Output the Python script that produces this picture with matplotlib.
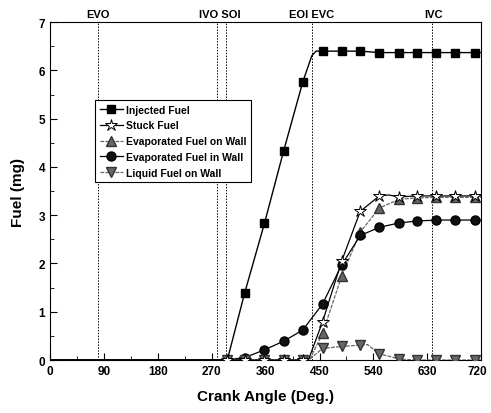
import matplotlib.pyplot as plt
import matplotlib.transforms as mtransforms
import numpy as np

plt.rcParams['font.family'] = ['Liberation Sans', 'DejaVu Sans']
plt.rcParams['font.weight'] = 'bold'

# crank angle positions of the markers
ca_marks = [295, 325, 358, 390, 422, 455, 487, 518, 550, 583, 613, 645, 677, 710]

# injected fuel
inj_x = [0, 296, 325, 358, 390, 422, 437, 444, 455, 487, 518, 550, 583, 613, 645, 677, 710, 720]
inj_y = [0, 0, 1.39, 2.83, 4.33, 5.76, 6.30, 6.40, 6.40, 6.40, 6.40, 6.37, 6.37, 6.37, 6.37, 6.37, 6.37, 6.37]
inj_mk = [2, 3, 4, 5, 8, 9, 10, 11, 12, 13, 14, 15, 16]

# stuck fuel
stk_x = [0, 295, 325, 358, 390, 422, 432, 455, 487, 518, 550, 565, 583, 613, 645, 677, 710, 720]
stk_y = [0, 0, 0, 0, 0, 0, 0.02, 0.79, 2.05, 3.08, 3.40, 3.42, 3.38, 3.40, 3.40, 3.40, 3.40, 3.40]
stk_mk = [1, 2, 3, 4, 5, 7, 8, 9, 10, 12, 13, 14, 15, 16]

# evaporated fuel on wall
evw_x = [0, 295, 325, 358, 390, 422, 434, 455, 487, 518, 550, 583, 613, 645, 677, 710, 720]
evw_y = [0, 0, 0, 0, 0, 0, 0.02, 0.55, 1.74, 2.65, 3.15, 3.33, 3.36, 3.37, 3.37, 3.37, 3.37]
evw_mk = [1, 2, 3, 4, 5, 7, 8, 9, 10, 11, 12, 13, 14, 15]

# evaporated fuel in wall
evi_x = [0, 295, 325, 358, 390, 422, 455, 487, 518, 550, 583, 613, 645, 677, 710, 720]
evi_y = [0, 0, 0.05, 0.21, 0.39, 0.62, 1.16, 1.97, 2.58, 2.75, 2.84, 2.88, 2.90, 2.90, 2.90, 2.90]
evi_mk = [1, 2, 3, 4, 5, 6, 7, 8, 9, 10, 11, 12, 13, 14]

# liquid fuel on wall
liq_x = [0, 295, 325, 358, 390, 422, 434, 455, 487, 518, 530, 550, 583, 613, 645, 677, 710, 720]
liq_y = [0, 0, 0, 0, 0, 0, 0.02, 0.24, 0.28, 0.31, 0.32, 0.13, 0.02, 0.0, 0.0, 0.0, 0.0, 0.0]
liq_mk = [1, 2, 3, 4, 5, 7, 8, 9, 11, 12, 13, 14, 15, 16]

events = ['EVO', 'IVO', 'SOI', 'EOI', 'IVC']
event_ca = [80, 278, 293, 438, 638]
label_txt = ['EVO', 'IVO SOI', 'EOI EVC', 'IVC']
label_ca = [80, 283, 437, 640]

fig = plt.figure(figsize=(4.91, 4.14), dpi=100)
ax = fig.add_axes([0.102, 0.128, 0.878, 0.816])

for ca in event_ca:
    ax.axvline(ca, color='black', lw=0.7, ls=(0, (1.5, 1.5)), zorder=1)

gray = '#666666'
ax.plot(inj_x, inj_y, color='black', lw=1.0, marker='s', ms=5.5, mfc='black', mec='black',
        markevery=inj_mk, label='Injected Fuel', zorder=4)
ax.plot(stk_x, stk_y, color='black', lw=0.9, marker='*', ms=9, mfc='white', mec='black', mew=0.7,
        markevery=stk_mk, label='Stuck Fuel', zorder=5)
ax.plot(evw_x, evw_y, color=gray, lw=0.9, ls=(0, (3, 1)), marker='^', ms=6.5, mfc=gray, mec='#333333',
        markevery=evw_mk, label='Evaporated Fuel on Wall', zorder=3)
ax.plot(evi_x, evi_y, color='black', lw=0.9, marker='o', ms=6.5, mfc='#111111', mec='black',
        markevery=evi_mk, label='Evaporated Fuel in Wall', zorder=3)
ax.plot(liq_x, liq_y, color=gray, lw=0.9, ls=(0, (3, 1)), marker='v', ms=6.5, mfc=gray, mec='#333333',
        markevery=liq_mk, label='Liquid Fuel on Wall', zorder=3)

for txt, ca in zip(label_txt, label_ca):
    ax.text(ca, 7.06, txt, ha='center', va='bottom', fontsize=8, fontweight='bold')

ax.set_xlim(0, 720)
ax.set_ylim(0, 7)
ax.set_xticks(np.arange(0, 721, 90))
ax.set_xticks(np.arange(0, 721, 45), minor=True)
ax.set_yticks(np.arange(0, 8, 1))
ax.set_yticks(np.arange(0, 7.01, 0.5), minor=True)
ax.tick_params(which='both', direction='in', top=False, right=False, labelsize=8.5)
ax.tick_params(which='major', length=5)
ax.tick_params(which='minor', length=3)
for lab in ax.get_xticklabels() + ax.get_yticklabels():
    lab.set_fontweight('bold')
# nudge the last x label a little left so it stays inside the figure
last = ax.xaxis.get_major_ticks()[-1].label1
last.set_transform(last.get_transform() + mtransforms.ScaledTranslation(-3 / 72, 0, fig.dpi_scale_trans))

ax.set_xlabel('Crank Angle (Deg.)', fontsize=11, fontweight='bold', labelpad=9)
ax.set_ylabel('Fuel (mg)', fontsize=11, fontweight='bold', labelpad=10)

leg = ax.legend(loc='upper left', bbox_to_anchor=(0.092, 0.785), fontsize=7.5,
                frameon=True, fancybox=False, framealpha=1, edgecolor='black',
                handlelength=2.2, handletextpad=0.3, borderpad=0.45, labelspacing=0.55)
leg.get_frame().set_linewidth(0.8)
for t in leg.get_texts():
    t.set_fontweight('bold')

fig.savefig('out.png', dpi=100)
